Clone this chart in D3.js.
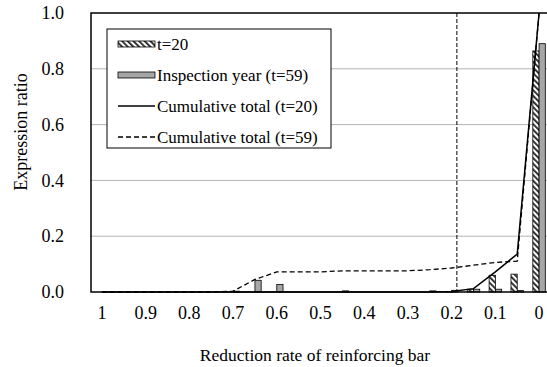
<!DOCTYPE html>
<html>
<head>
<meta charset="utf-8" />
<style>
body { margin: 0; background: #fff; }
svg { display: block; }
text { font-family: "Liberation Serif", "Times New Roman", serif; fill: #000; }
</style>
<script src="https://cdn.jsdelivr.net/npm/d3@7/dist/d3.min.js"></script>
</head>
<body>
<div id="chart"></div>
<script>
// categories: reduction rate of reinforcing bar, step 0.05
var categories = ["1","0.95","0.9","0.85","0.8","0.75","0.7","0.65","0.6","0.55","0.5",
                  "0.45","0.4","0.35","0.3","0.25","0.2","0.15","0.1","0.05","0"];
var xTickLabels = ["1","0.9","0.8","0.7","0.6","0.5","0.4","0.3","0.2","0.1","0"];
var yTicks = [0, 0.2, 0.4, 0.6, 0.8, 1.0];

// bars
var ratioT20 = [0,0,0,0,0,0,0,0,0,0,0, 0,0,0,0,0,0.002,0.010,0.060,0.064,0.864];
var ratioT59 = [0,0,0,0,0,0,0.003,0.042,0.027,0,0, 0.004,0,0,0,0.004,0.006,0.010,0.010,0.005,0.890];

// lines
var cumT20 = [0,0,0,0,0,0,0,0,0,0,0, 0,0,0,0,0,0.002,0.012,0.072,0.136,1.0];
var cumT59 = [0,0,0,0,0,0,0.003,0.045,0.072,0.072,0.072, 0.076,0.076,0.076,0.076,0.080,0.086,0.096,0.106,0.111,1.0];

var thresholdRate = 0.188;

var W = 547, H = 367;
var margin = { top: 13, left: 91 };
var plotW = 459, plotH = 279;
var FONT = '"Liberation Serif", "Times New Roman", serif';

var svg = d3.select("#chart").append("svg")
  .attr("width", W).attr("height", H);

// hatch pattern for t=20 bars
var defs = svg.append("defs");
var pat = defs.append("pattern")
  .attr("id", "hatch")
  .attr("patternUnits", "userSpaceOnUse")
  .attr("width", 4).attr("height", 4)
  .attr("patternTransform", "rotate(-45)");
pat.append("rect").attr("width", 4).attr("height", 4).attr("fill", "#fff");
pat.append("rect").attr("x", 0).attr("width", 1.8).attr("height", 4).attr("fill", "#222");

var g = svg.append("g")
  .attr("transform", "translate(" + margin.left + "," + margin.top + ")");

var x = d3.scaleBand().domain(categories).range([0, plotW]).padding(0);
var xSub = d3.scaleBand().domain(["t20", "t59"]).range([0, x.bandwidth()])
  .paddingInner(0).paddingOuter(0.75);
var xLin = d3.scaleLinear().domain([1, 0])
  .range([x("1") + x.bandwidth() / 2, x("0") + x.bandwidth() / 2]);
var y = d3.scaleLinear().domain([0, 1]).range([plotH, 0]);

// gridlines
g.selectAll(".grid")
  .data(yTicks.filter(function(d) { return d > 0 && d < 1; }))
  .enter().append("line")
  .attr("x1", 0).attr("x2", plotW)
  .attr("y1", function(d) { return y(d); })
  .attr("y2", function(d) { return y(d); })
  .attr("stroke", "#b4b4b4").attr("stroke-width", 1);

// threshold line
g.append("line")
  .attr("x1", xLin(thresholdRate)).attr("x2", xLin(thresholdRate))
  .attr("y1", 0).attr("y2", plotH)
  .attr("stroke", "#000").attr("stroke-width", 1)
  .attr("stroke-dasharray", "4,2");

// bars
var barData = categories.map(function(c, i) {
  return { cat: c, t20: ratioT20[i], t59: ratioT59[i] };
});
var grp = g.selectAll(".cat").data(barData).enter().append("g")
  .attr("transform", function(d) { return "translate(" + x(d.cat) + ",0)"; });

grp.filter(function(d) { return d.t20 > 0; }).append("rect")
  .attr("x", xSub("t20")).attr("width", xSub.bandwidth())
  .attr("y", function(d) { return y(d.t20); })
  .attr("height", function(d) { return y(0) - y(d.t20); })
  .attr("fill", "url(#hatch)").attr("stroke", "#000").attr("stroke-width", 0.8);

grp.filter(function(d) { return d.t59 > 0; }).append("rect")
  .attr("x", xSub("t59")).attr("width", xSub.bandwidth())
  .attr("y", function(d) { return y(d.t59); })
  .attr("height", function(d) { return y(0) - y(d.t59); })
  .attr("fill", "#a6a6a6").attr("stroke", "#000").attr("stroke-width", 0.8);

// cumulative lines
var line = d3.line()
  .x(function(d, i) { return x(categories[i]) + x.bandwidth() / 2; })
  .y(function(d) { return y(d); });

g.append("path").datum(cumT59)
  .attr("d", line).attr("fill", "none")
  .attr("stroke", "#000").attr("stroke-width", 1.3)
  .attr("stroke-dasharray", "5,3");

g.append("path").datum(cumT20)
  .attr("d", line).attr("fill", "none")
  .attr("stroke", "#000").attr("stroke-width", 1.5);

// plot border
g.append("rect")
  .attr("x", 0).attr("y", 0).attr("width", plotW).attr("height", plotH)
  .attr("fill", "none").attr("stroke", "#000").attr("stroke-width", 1.5);

// axes
var xAxis = g.append("g")
  .attr("transform", "translate(0," + plotH + ")")
  .call(d3.axisBottom(x).tickValues(xTickLabels).tickSize(0).tickPadding(14));
xAxis.attr("font-family", FONT).attr("font-size", 18);
xAxis.select(".domain").remove();

var yAxis = g.append("g")
  .call(d3.axisLeft(y).tickValues(yTicks).tickFormat(d3.format(".1f")).tickSize(0).tickPadding(27));
yAxis.attr("font-family", FONT).attr("font-size", 18);
yAxis.select(".domain").remove();

// axis titles
svg.append("text")
  .attr("x", 315).attr("y", 361)
  .attr("text-anchor", "middle")
  .style("font-size", "17.5px")
  .text("Reduction rate of reinforcing bar");

svg.append("text")
  .attr("transform", "translate(27,132) rotate(-90)")
  .attr("text-anchor", "middle")
  .style("font-size", "18px")
  .text("Expression ratio");

// legend
var legend = svg.append("g").attr("transform", "translate(107,29)");
legend.append("rect")
  .attr("width", 224).attr("height", 119)
  .attr("fill", "#fff").attr("stroke", "#000").attr("stroke-width", 1);

var legendItems = [
  { label: "t=20", kind: "hatch" },
  { label: "Inspection year (t=59)", kind: "gray" },
  { label: "Cumulative total (t=20)", kind: "solid" },
  { label: "Cumulative total (t=59)", kind: "dashed" }
];
var li = legend.selectAll(".li").data(legendItems).enter().append("g")
  .attr("transform", function(d, i) { return "translate(11," + (15 + i * 31) + ")"; });

li.each(function(d) {
  var s = d3.select(this);
  if (d.kind === "hatch" || d.kind === "gray") {
    s.append("rect").attr("x", 0).attr("y", -3).attr("width", 37).attr("height", 6)
      .attr("fill", d.kind === "hatch" ? "url(#hatch)" : "#a6a6a6")
      .attr("stroke", "#000").attr("stroke-width", 0.8);
  } else {
    s.append("line").attr("x1", 0).attr("x2", 37).attr("y1", 0).attr("y2", 0)
      .attr("stroke", "#000").attr("stroke-width", d.kind === "solid" ? 1.5 : 1.3)
      .attr("stroke-dasharray", d.kind === "dashed" ? "5,3" : null);
  }
  s.append("text").attr("x", 39).attr("y", 0).attr("dy", "0.35em")
    .style("font-size", "17px").text(d.label);
});
</script>
</body>
</html>
